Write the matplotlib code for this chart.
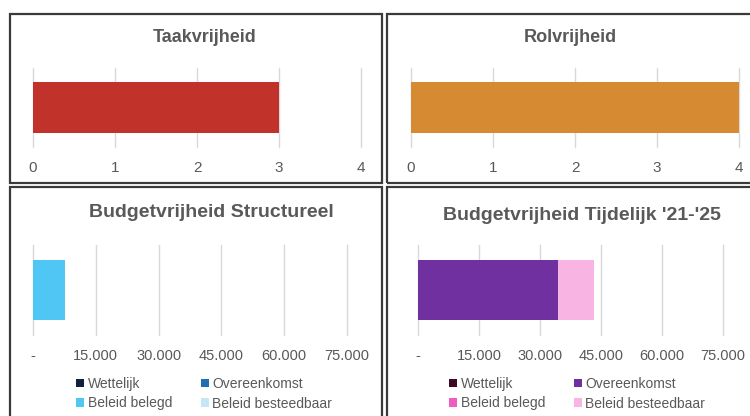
import matplotlib
matplotlib.use("Agg")
import matplotlib.pyplot as plt
from matplotlib.patches import Rectangle

plt.rcParams['font.family'] = ['Liberation Sans', 'DejaVu Sans']

W, H = 750, 416

# ---- data ----
taak_title = "Taakvrijheid"
taak_value = [3]
taak_ticks = [0, 1, 2, 3, 4]

rol_title = "Rolvrijheid"
rol_value = [4]
rol_ticks = [0, 1, 2, 3, 4]

series_names = ["Wettelijk", "Overeenkomst", "Beleid belegd", "Beleid besteedbaar"]
struct_title = "Budgetvrijheid Structureel"
struct_values = [0, 0, 7700, 0]
tijd_title = "Budgetvrijheid Tijdelijk '21-'25"
tijd_values = [0, 34400, 0, 8900]
budget_ticks = [0, 15000, 30000, 45000, 60000, 75000]
budget_ticklabels = ["-", "15.000", "30.000", "45.000", "60.000", "75.000"]

struct_colors = ["#14213d", "#1f6fb2", "#4fc6f3", "#c6e5f6"]
tijd_colors = ["#3b0a24", "#7030a0", "#ee5ec0", "#f8b4e2"]

GRAY = "#595959"
GRID = "#d9d9d9"

fig = plt.figure(figsize=(W / 100, H / 100), dpi=100)


def px_axes(x0, y0, x1, y1):
    return fig.add_axes([x0 / W, 1 - y1 / H, (x1 - x0) / W, (y1 - y0) / H])


def frame(x0, y0, x1, y1):
    fig.patches.append(Rectangle((x0 / W, 1 - y1 / H), (x1 - x0) / W, (y1 - y0) / H,
                                 transform=fig.transFigure, fill=False,
                                 edgecolor="#3a3a3a", linewidth=1.6))


def style(ax, xmax, ticks, labels, fs, pad):
    ax.set_xlim(0, xmax)
    ax.set_ylim(-0.5, 0.5)
    ax.set_xticks(ticks)
    ax.set_xticklabels(labels)
    ax.set_yticks([])
    for s in ax.spines.values():
        s.set_visible(False)
    ax.tick_params(axis='x', length=0, labelsize=fs, labelcolor=GRAY, pad=pad)
    ax.xaxis.grid(True, color=GRID, linewidth=1.0)
    for t in ax.xaxis.get_major_ticks():
        t.gridline.set_clip_on(False)
    ax.set_axisbelow(True)
    ax.patch.set_alpha(0)


frame(10, 14, 382, 183)
frame(387, 14, 760, 183)
frame(10, 187, 382, 430)
frame(387, 187, 760, 430)

# Taakvrijheid
ax1 = px_axes(33, 68, 361, 147)
ax1.barh([0], taak_value, height=0.65, color="#c0322a")
style(ax1, 4, taak_ticks, [str(t) for t in taak_ticks], 11, 10)
fig.text(205 / W, 1 - 37 / H, taak_title, ha='center', va='center',
         fontsize=13, fontweight='bold', color=GRAY)

# Rolvrijheid
ax2 = px_axes(411, 68, 739, 147)
ax2.barh([0], rol_value, height=0.65, color="#d68a31")
style(ax2, 4, rol_ticks, [str(t) for t in rol_ticks], 11, 10)
fig.text(570 / W, 1 - 38 / H, rol_title, ha='center', va='center',
         fontsize=13, fontweight='bold', color=GRAY)


def stacked(ax, values, colors):
    left = 0
    handles = []
    for name, v, c in zip(series_names, values, colors):
        h = ax.barh([0], [v], left=left, height=0.66, color=c, label=name)
        handles.append(h)
        left += v
    return handles


def legend(ax, handles, x, y):
    order = [0, 2, 1, 3]  # row-wise reading order in a 2-column legend
    ax.legend([handles[i] for i in order], [series_names[i] for i in order],
              ncol=2, loc='upper left', bbox_to_anchor=(x / W, 1 - y / H),
              bbox_transform=fig.transFigure, frameon=False, fontsize=10,
              handlelength=0.6, handleheight=0.6, handletextpad=0.25,
              columnspacing=2.05, labelspacing=0.4, borderpad=0, labelcolor=GRAY)


# Structureel
ax3 = px_axes(33, 245, 347, 335)
h3 = stacked(ax3, struct_values, struct_colors)
style(ax3, 75000, budget_ticks, budget_ticklabels, 10.5, 10)
fig.text(211 / W, 1 - 213 / H, struct_title, ha='center', va='center',
         fontsize=14, fontweight='bold', color=GRAY)
legend(ax3, h3, 69, 370)

# Tijdelijk
ax4 = px_axes(418, 245, 723, 335)
h4 = stacked(ax4, tijd_values, tijd_colors)
style(ax4, 75000, budget_ticks, budget_ticklabels, 10.5, 10)
fig.text(582 / W, 1 - 215 / H, tijd_title, ha='center', va='center',
         fontsize=14, fontweight='bold', color=GRAY)
legend(ax4, h4, 442, 370)

fig.savefig("out.png", dpi=100, facecolor="white")
